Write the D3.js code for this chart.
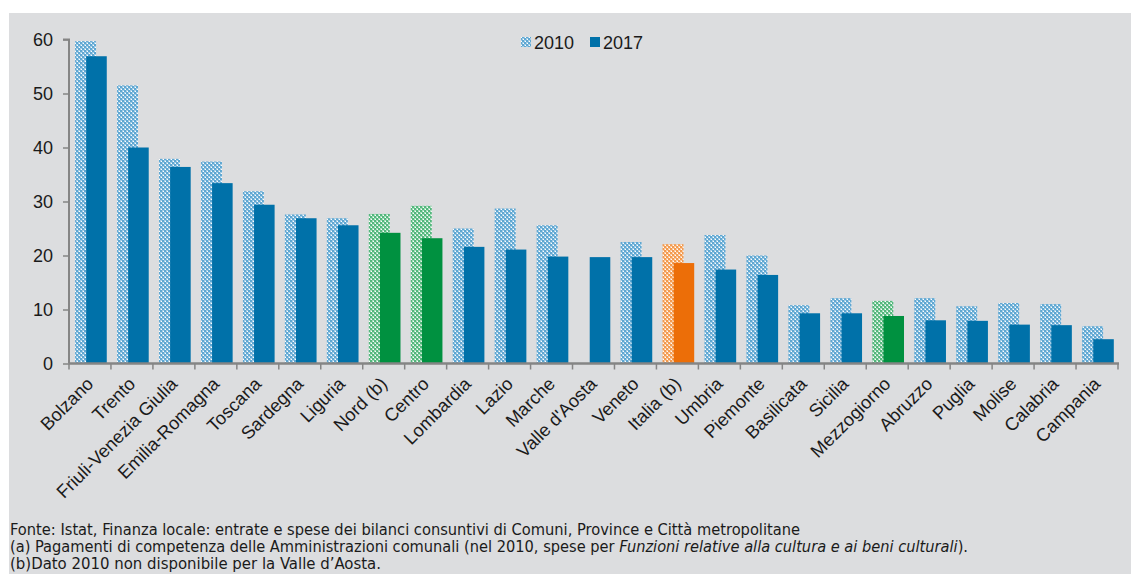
<!DOCTYPE html>
<html><head><meta charset="utf-8">
<script src="https://cdn.jsdelivr.net/npm/d3@7"></script>
<style>
html,body{margin:0;padding:0;background:#fff;}
svg{display:block;}
</style></head>
<body>
<script>
const categories = ["Bolzano","Trento","Friuli-Venezia Giulia","Emilia-Romagna","Toscana","Sardegna","Liguria","Nord (b)","Centro","Lombardia","Lazio","Marche","Valle d'Aosta","Veneto","Italia (b)","Umbria","Piemonte","Basilicata","Sicilia","Mezzogiorno","Abruzzo","Puglia","Molise","Calabria","Campania"];
const values2010 = [59.7,51.5,37.9,37.4,31.9,27.6,26.9,27.7,29.2,25.0,28.7,25.6,null,22.5,22.1,23.8,20.0,10.8,12.1,11.6,12.1,10.6,11.2,11.0,6.9];
const values2017 = [56.9,40.0,36.4,33.4,29.4,26.9,25.6,24.2,23.2,21.6,21.1,19.8,19.7,19.7,18.6,17.4,16.4,9.3,9.3,8.8,8.0,7.9,7.2,7.1,4.5];
const groupType = ["r","r","r","r","r","r","r","m","m","r","r","r","r","r","i","r","r","r","r","m","r","r","r","r","r"];
const seriesNames = ["2010","2017"];
const yTicks = [0,10,20,30,40,50,60];
const notes = [
  [{t:"Fonte: Istat, Finanza locale: entrate e spese dei bilanci consuntivi di Comuni, Province e Città metropolitane"}],
  [{t:"(a) Pagamenti di competenza delle Amministrazioni comunali (nel 2010, spese per "},{t:"Funzioni relative alla cultura e ai beni culturali",i:true},{t:")."}],
  [{t:"(b)Dato 2010 non disponibile per la Valle d’Aosta."}]
];

const W = 1131, H = 574;
const svg = d3.select("body").append("svg").attr("width",W).attr("height",H);
svg.append("rect").attr("x",9).attr("y",13).attr("width",W-9).attr("height",H-13).attr("fill","#dcdddf");

const defs = svg.append("defs");
function makePattern(id, base, light){
  const p = defs.append("pattern").attr("id",id).attr("patternUnits","userSpaceOnUse").attr("width",4).attr("height",4);
  p.append("rect").attr("width",4).attr("height",4).attr("fill",base);
  p.append("rect").attr("x",0).attr("y",0).attr("width",2).attr("height",2).attr("fill",light);
  p.append("rect").attr("x",2).attr("y",2).attr("width",2).attr("height",2).attr("fill",light);
  p.append("rect").attr("x",1).attr("y",1).attr("width",1).attr("height",1).attr("fill","#ffffff");
  p.append("rect").attr("x",3).attr("y",3).attr("width",1).attr("height",1).attr("fill","#ffffff");
}
makePattern("pb","#5ea7d2","#a3cce6");
makePattern("pg","#52b77c","#a6dcbb");
makePattern("po","#f39a4e","#f9c9a0");
const solid = {r:"#0071a9", m:"#009140", i:"#ec6e08"};
const patt = {r:"url(#pb)", m:"url(#pg)", i:"url(#po)"};

const x0 = 69, x1 = 1118, yTop = 39.5, yBot = 363.5;
const x = d3.scaleBand().domain(categories).range([x0,x1]).paddingInner(0).paddingOuter(0);
const y = d3.scaleLinear().domain([0,60]).range([yBot,yTop]);
const bw = x.bandwidth();

const g = svg.append("g");
// 2010 bars
g.selectAll("rect.b10").data(categories.map((c,i)=>({c,v:values2010[i],t:groupType[i]})).filter(d=>d.v!=null))
 .join("rect").attr("class","b10")
 .attr("x",d=>x(d.c)+bw*0.145).attr("width",bw*0.5)
 .attr("y",d=>y(d.v)).attr("height",d=>y(0)-y(d.v))
 .attr("fill",d=>patt[d.t]);
// 2017 bars
g.selectAll("rect.b17").data(categories.map((c,i)=>({c,v:values2017[i],t:groupType[i]})))
 .join("rect").attr("class","b17")
 .attr("x",d=>x(d.c)+bw*0.41).attr("width",bw*0.49)
 .attr("y",d=>y(d.v)).attr("height",d=>y(0)-y(d.v))
 .attr("fill",d=>solid[d.t]);

// Y axis
const yAxis = d3.axisLeft(y).tickValues(yTicks).tickSize(6).tickPadding(10).tickFormat(d3.format("d"));
const ya = svg.append("g").attr("transform",`translate(${x0},0)`).call(yAxis);
ya.select(".domain").attr("stroke","#858585").attr("stroke-width",2).attr("d",`M-6,${yTop}H0V${yBot}`);
ya.selectAll(".tick line").attr("stroke","#858585").attr("stroke-width",1.5);
ya.selectAll(".tick text").attr("font-family","Liberation Sans, Arial, sans-serif").attr("font-size",18).attr("fill","#1a1a1a");

// X axis
const xa = svg.append("g").attr("transform",`translate(0,${yBot})`);
xa.append("line").attr("x1",x0).attr("x2",x1+1).attr("stroke","#858585").attr("stroke-width",2.5);
const bounds = categories.map(c=>x(c)).concat([x1]);
xa.selectAll("line.tk").data(bounds).join("line").attr("class","tk")
 .attr("x1",d=>d).attr("x2",d=>d).attr("y1",0).attr("y2",6).attr("stroke","#858585").attr("stroke-width",1.5);
xa.selectAll("text").data(categories).join("text")
 .attr("transform",d=>`translate(${x(d)+bw/2},${17}) rotate(-45)`)
 .attr("text-anchor","end").attr("dy","0.35em")
 .attr("font-family","Liberation Sans, Arial, sans-serif").attr("font-size",18.2).attr("fill","#1a1a1a")
 .text(d=>d);

// Legend
const leg = svg.append("g").attr("font-family","Liberation Sans, Arial, sans-serif").attr("font-size",18).attr("fill","#1a1a1a");
const legItems = [{n:seriesNames[0],f:patt.r,x:521},{n:seriesNames[1],f:solid.r,x:590}];
legItems.forEach(it=>{
  leg.append("rect").attr("x",it.x).attr("y",37).attr("width",10).attr("height",10).attr("fill",it.f);
  leg.append("text").attr("x",it.x+13).attr("y",48.5).text(it.n);
});

// Notes
const nLengths = [790, 958, 371];
notes.forEach((parts,i)=>{
  const t = svg.append("text").attr("x",10).attr("y",535+i*17)
    .attr("font-family","Liberation Sans Narrow, DejaVu Sans Condensed, Arial Narrow, sans-serif").attr("font-size",16).attr("fill","#1a1a1a")
    .attr("textLength",nLengths[i]).attr("lengthAdjust","spacingAndGlyphs");
  parts.forEach(p=>{ t.append("tspan").attr("font-style",p.i?"italic":"normal").text(p.t); });
});
</script>
</body></html>
